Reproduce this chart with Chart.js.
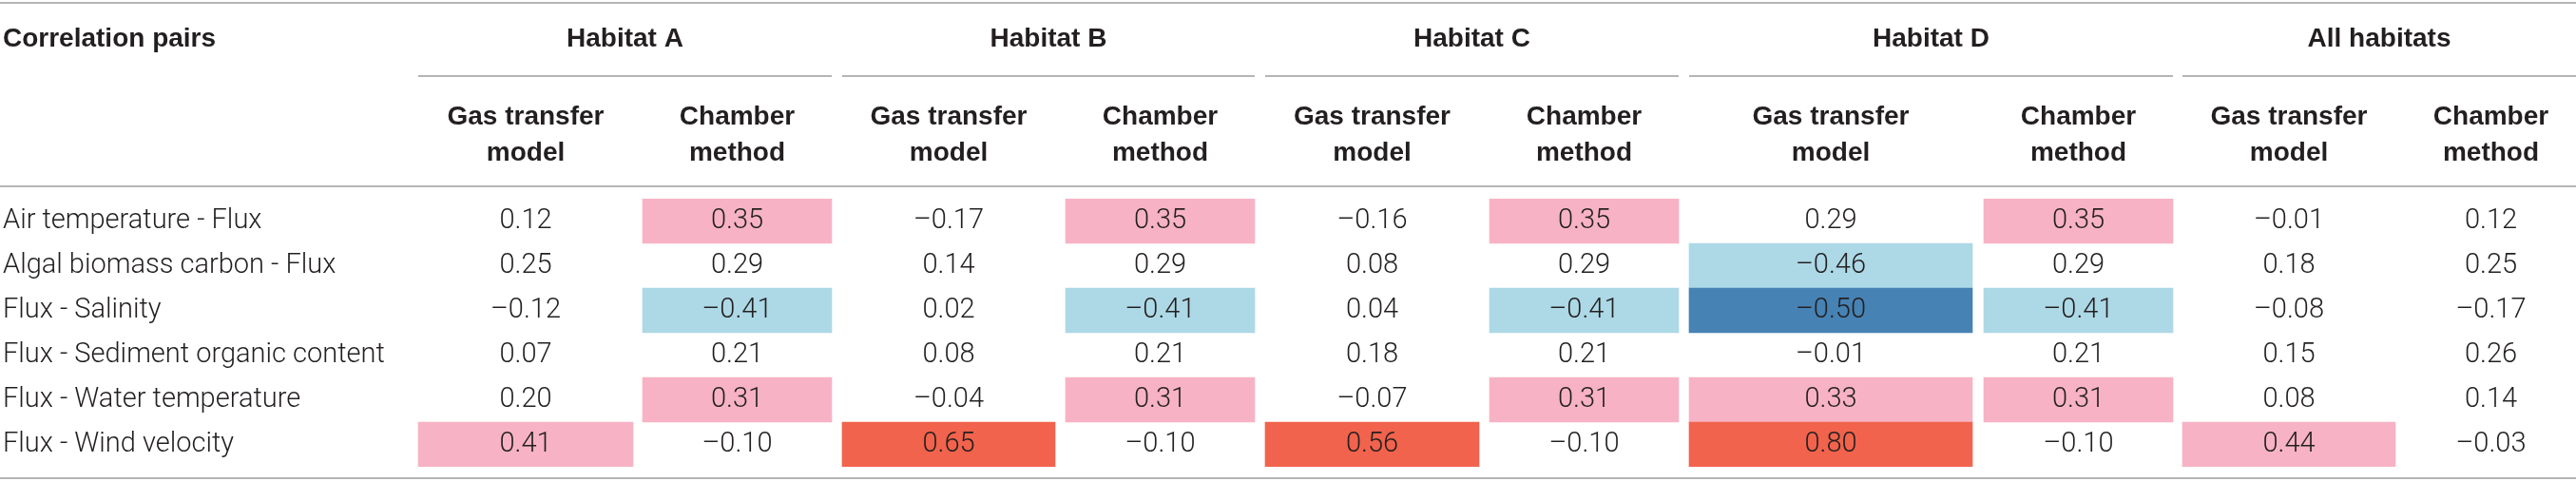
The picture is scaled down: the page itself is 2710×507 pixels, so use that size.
<!DOCTYPE html>
<html>
<head>
<meta charset="utf-8">
<title>Correlation pairs</title>
<script src="https://cdn.jsdelivr.net/npm/chart.js@4.4.1/dist/chart.umd.min.js"></script>
<style>
  html, body { margin: 0; padding: 0; background: #ffffff; }
  #wrap { width: 2710px; height: 507px; position: relative; }
</style>
</head>
<body>
<div id="wrap"><canvas id="tabla"></canvas></div>
<script>
// Filas de la tabla
const pairs = [
  'Air temperature - Flux',
  'Algal biomass carbon - Flux',
  'Flux - Salinity',
  'Flux - Sediment organic content',
  'Flux - Water temperature',
  'Flux - Wind velocity'
];
const habitats = ['Habitat A', 'Habitat B', 'Habitat C', 'Habitat D', 'All habitats'];
const methodLines = [['Gas transfer', 'model'], ['Chamber', 'method']];

// Valores por columna (mismo orden que pairs)
const habitatA_gas = [0.12, 0.25, -0.12, 0.07, 0.20, 0.41];
const habitatA_chamber = [0.35, 0.29, -0.41, 0.21, 0.31, -0.10];
const habitatB_gas = [-0.17, 0.14, 0.02, 0.08, -0.04, 0.65];
const habitatB_chamber = [0.35, 0.29, -0.41, 0.21, 0.31, -0.10];
const habitatC_gas = [-0.16, 0.08, 0.04, 0.18, -0.07, 0.56];
const habitatC_chamber = [0.35, 0.29, -0.41, 0.21, 0.31, -0.10];
const habitatD_gas = [0.29, -0.46, -0.50, -0.01, 0.33, 0.80];
const habitatD_chamber = [0.35, 0.29, -0.41, 0.21, 0.31, -0.10];
const allHabitats_gas = [-0.01, 0.18, -0.08, 0.15, 0.08, 0.44];
const allHabitats_chamber = [0.12, 0.25, -0.17, 0.26, 0.14, -0.03];

const columns = [
  habitatA_gas, habitatA_chamber,
  habitatB_gas, habitatB_chamber,
  habitatC_gas, habitatC_chamber,
  habitatD_gas, habitatD_chamber,
  allHabitats_gas, allHabitats_chamber
];

// Maquetación: bordes de cada columna en unidades del eje x (= píxeles)
const colEdges = [
  [440, 666], [676, 875],
  [886, 1110], [1121, 1320],
  [1331, 1556], [1567, 1766],
  [1777, 2075], [2087, 2286],
  [2296, 2520], [2531, 2710]
];
const lineColor = '#b5b5b5';
const textColor = '#231f20';
const bodyFont = '300 29px Roboto, "Liberation Sans", sans-serif';
const boldFont = 'bold 28px "Liberation Sans", Arial, sans-serif';

function cellColor(v) {
  if (v >= 0.5) return '#f1634c';
  if (v >= 0.3) return '#f7b3c5';
  if (v <= -0.5) return '#4682b4';
  if (v <= -0.3) return '#add8e6';
  return null;
}

function fmt(v) {
  const s = Math.abs(v).toFixed(2);
  return v < 0 ? '\u2013' + s : s;
}

const datasets = columns.map((vals, c) => ({
  data: vals.map(v => cellColor(v) ? colEdges[c] : null),
  backgroundColor: vals.map(v => cellColor(v) || 'rgba(0,0,0,0)'),
  borderWidth: 0,
  grouped: false,
  barPercentage: 1,
  categoryPercentage: 1
}));

// Dibuja cabecera, líneas y textos
const tablePlugin = {
  id: 'tabla',
  afterDatasetsDraw(chart) {
    const ctx = chart.ctx;
    const xs = chart.scales.x;
    const ys = chart.scales.y;
    ctx.save();

    // líneas horizontales
    ctx.strokeStyle = lineColor;
    ctx.lineWidth = 2;
    const hline = (x1, x2, y) => {
      ctx.beginPath();
      ctx.moveTo(x1, y);
      ctx.lineTo(x2, y);
      ctx.stroke();
    };
    hline(0, chart.width, 3);
    hline(0, chart.width, 196);
    hline(0, chart.width, 503);
    habitats.forEach((h, g) => {
      const x1 = xs.getPixelForValue(colEdges[g * 2][0]);
      const x2 = xs.getPixelForValue(colEdges[g * 2 + 1][1]);
      hline(x1, x2, 80);
    });

    // cabecera
    ctx.fillStyle = textColor;
    ctx.font = boldFont;
    ctx.textBaseline = 'middle';
    ctx.textAlign = 'left';
    ctx.fillText('Correlation pairs', 3, 41);
    ctx.textAlign = 'center';
    habitats.forEach((h, g) => {
      const x1 = xs.getPixelForValue(colEdges[g * 2][0]);
      const x2 = xs.getPixelForValue(colEdges[g * 2 + 1][1]);
      ctx.fillText(h, (x1 + x2) / 2, 41);
    });
    colEdges.forEach((e, c) => {
      const x = xs.getPixelForValue((e[0] + e[1]) / 2);
      const lines = methodLines[c % 2];
      ctx.fillText(lines[0], x, 123);
      ctx.fillText(lines[1], x, 161);
    });

    // cuerpo
    ctx.font = bodyFont;
    pairs.forEach((p, i) => {
      const y = ys.getPixelForValue(i);
      ctx.textAlign = 'left';
      ctx.fillText(p, 3, y);
      ctx.textAlign = 'center';
      columns.forEach((vals, c) => {
        const x = xs.getPixelForValue((colEdges[c][0] + colEdges[c][1]) / 2);
        ctx.fillText(fmt(vals[i]), x, y);
      });
    });
    ctx.restore();
  }
};

new Chart(document.getElementById('tabla'), {
  type: 'bar',
  data: { labels: pairs, datasets: datasets },
  options: {
    indexAxis: 'y',
    responsive: true,
    maintainAspectRatio: false,
    animation: false,
    layout: { padding: { top: 209, bottom: 16, left: 0, right: 0 } },
    plugins: { legend: { display: false }, tooltip: { enabled: false } },
    scales: {
      x: { type: 'linear', min: 0, max: 2710, display: false },
      y: { type: 'category', offset: true, display: false }
    }
  },
  plugins: [tablePlugin]
});
</script>
</body>
</html>
